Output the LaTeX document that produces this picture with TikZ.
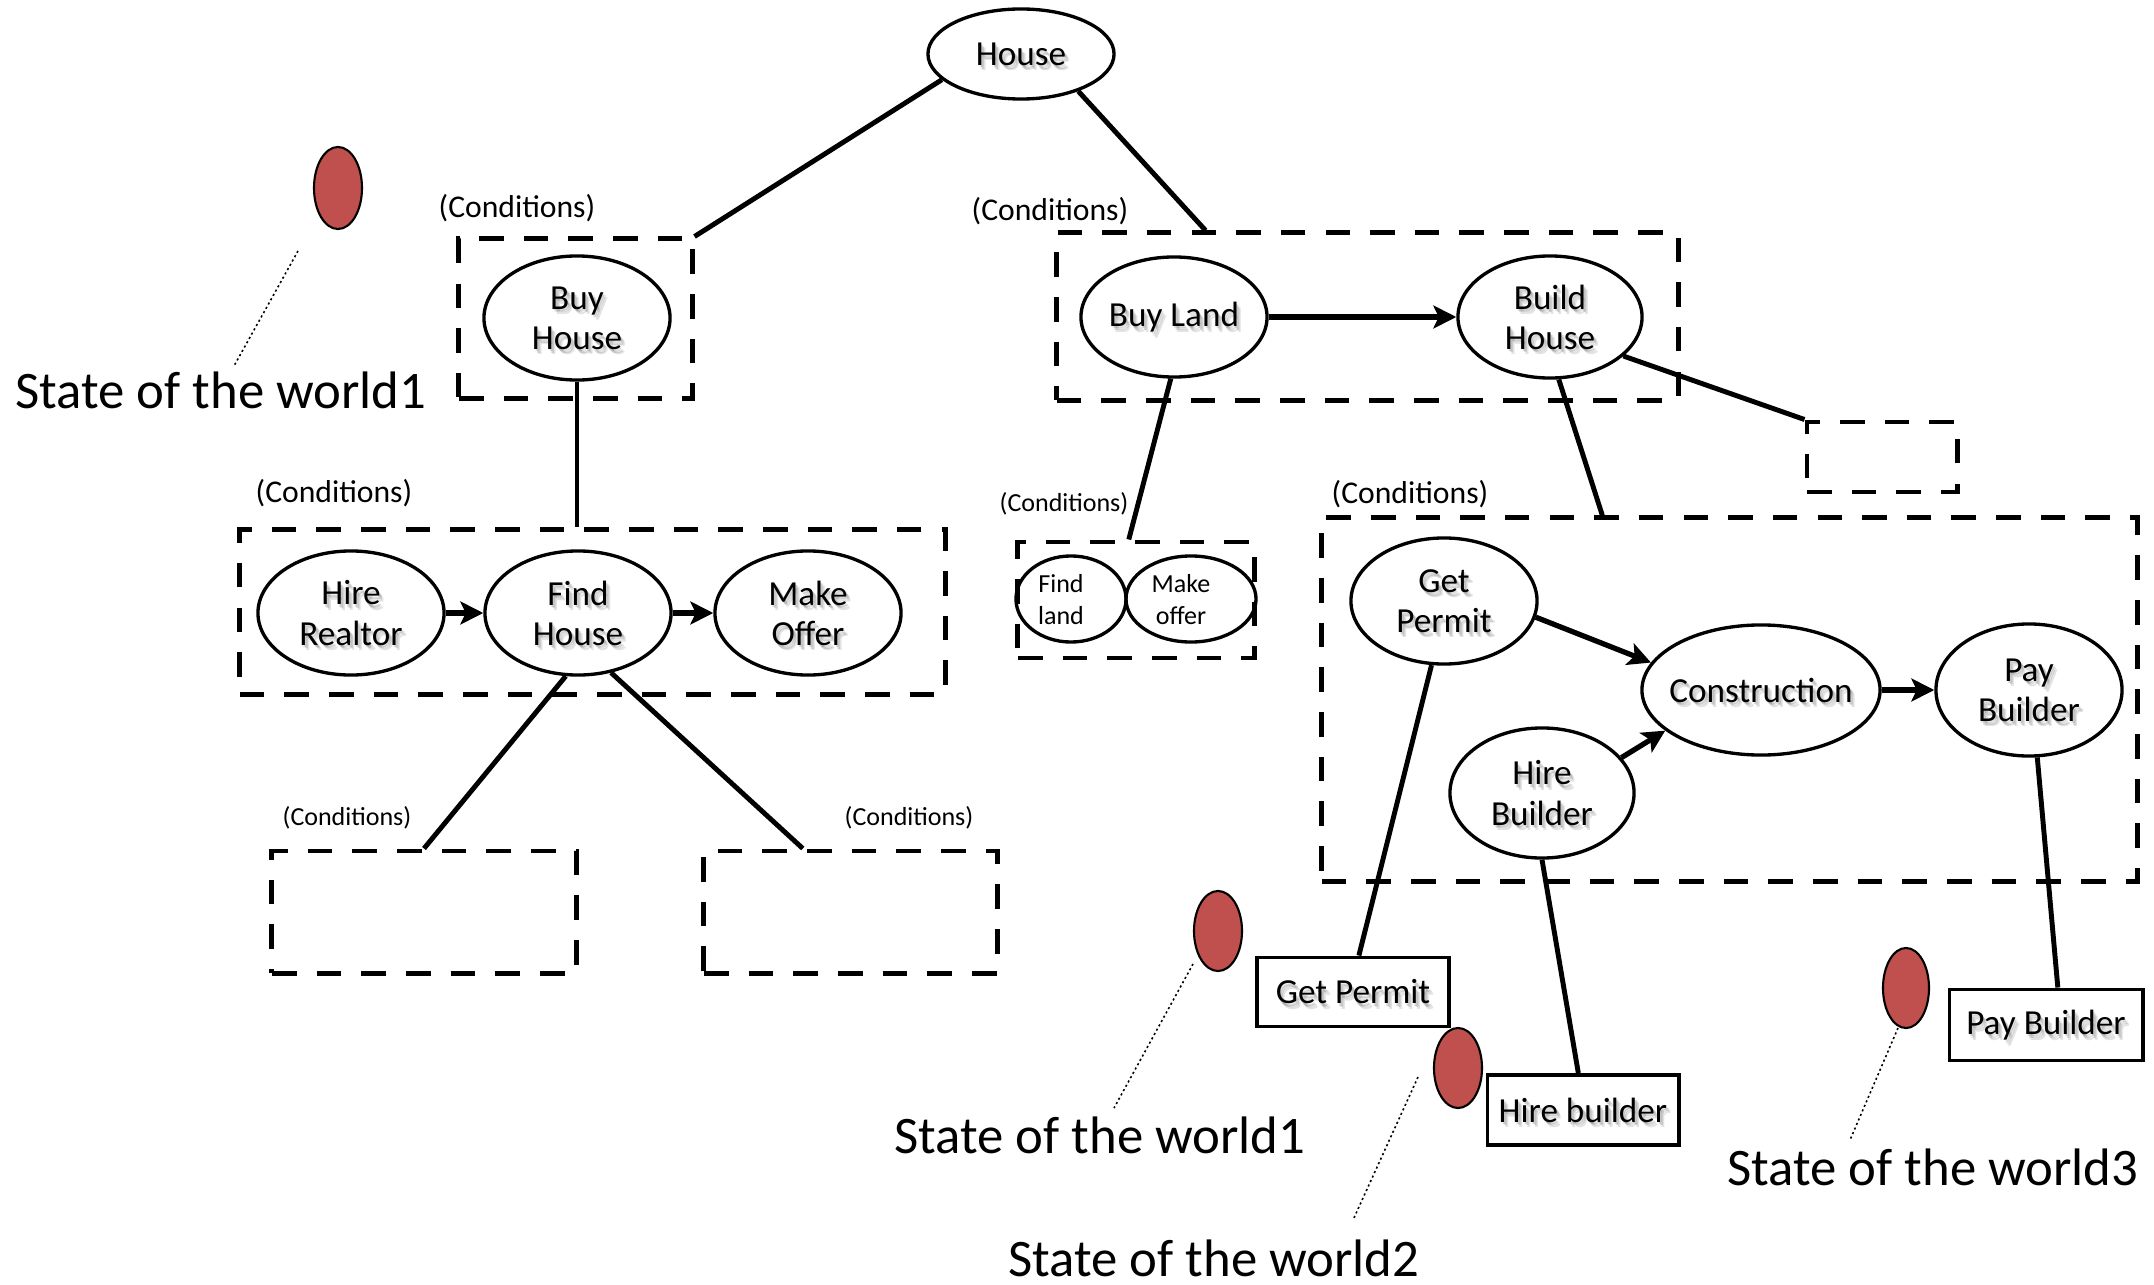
\documentclass[tikz,border=0pt]{standalone}
\usepackage{fontspec}
\setmainfont{Carlito}
\usetikzlibrary{shapes.geometric,arrows.meta,calc}

\definecolor{worldred}{HTML}{C0504D}

\tikzset{
  oval/.style={ellipse, draw, line width=0.95pt, inner sep=0pt},
  lbl/.style={font=\fontsize{10}{11.4}\selectfont, align=center, inner sep=0pt},
  shd/.style={lbl, text=black, opacity=0.11},
  cbox/.style={draw, line width=1.4pt, dash pattern=on 7pt off 5.7pt, inner sep=0pt},
  cond/.style={font=\fontsize{9}{10}\selectfont, inner sep=0pt},
  condsm/.style={font=\fontsize{7.4}{9.1}\selectfont, align=center, inner sep=0pt},
  tag/.style={draw, line width=1.1pt, fill=white, inner sep=0pt},
  link/.style={line width=1.4pt},
  flow/.style={line width=1.5pt, -{Stealth[length=6.5pt, width=6.5pt, inset=1.5pt]}},
  stateball/.style={ellipse, draw, line width=0.6pt, fill=worldred, inner sep=0pt},
  lead/.style={line width=0.45pt, dash pattern=on 0.6pt off 0.8pt},
  world/.style={font=\fontsize{15}{18}\selectfont, inner sep=0pt},
}

% label with a soft drop shadow: name, anchor point, text
\newcommand\shadowlabel[3]{%
  \foreach \dx/\dy [count=\k] in {0.4/-0.6, 0.8/-1.1, 1.2/-1.6} {
    \node[shd] (#1-sh\k) at ([shift={(\dx pt,\dy pt)}]#2) {#3};
  }
  \node[lbl] (#1) at (#2) {#3};
}

\begin{document}
\begin{tikzpicture}[x=0.01cm, y=-0.01cm]
\fill[white] (0,0) rectangle (2154,1285);
\useasboundingbox (0,0) rectangle (2154,1285);

% condition boxes
\node[cbox, minimum width=2.33cm, minimum height=1.59cm] (bhbox) at (575.5,318.5) {};
\node[cbox, minimum width=7.05cm, minimum height=1.64cm] (fhbox) at (592.5,612) {};
\node[cbox, minimum width=3.04cm, minimum height=1.22cm] (llbox) at (424,912) {};
\node[cbox, minimum width=2.93cm, minimum height=1.22cm] (lrbox) at (850.5,912) {};
\node[cbox, minimum width=6.21cm, minimum height=1.67cm] (blbox) at (1367.5,316.5) {};
\node[cbox, minimum width=2.36cm, minimum height=1.16cm] (flbox) at (1136,600) {};
\node[cbox, minimum width=1.50cm, minimum height=0.70cm] (ebox) at (1882,457) {};
\node[cbox, minimum width=8.15cm, minimum height=3.63cm] (bigbox) at (1729.5,699.5) {};

\node[cond] (c1) at (517,208) {(Conditions)};
\node[cond] (c2) at (334,493) {(Conditions)};
\node[condsm] (c3) at (347,818) {(Conditions)};
\node[condsm] (c4) at (909,818) {(Conditions)};
\node[cond] (c5) at (1050,211) {(Conditions)};
\node[condsm] (c6) at (1064,504) {(Conditions)};
\node[cond] (c7) at (1410,494) {(Conditions)};

% goal ellipses
\node[oval, minimum width=1.86cm, minimum height=0.90cm] (house) at (1021,54) {};
\node[oval, minimum width=1.86cm, minimum height=1.24cm] (buyhouse) at (577,318) {};
\node[oval, minimum width=1.86cm, minimum height=1.24cm] (hirerealtor) at (351,613) {};
\node[oval, minimum width=1.86cm, minimum height=1.24cm] (findhouse) at (578,613) {};
\node[oval, minimum width=1.86cm, minimum height=1.24cm] (makeoffer) at (808,613) {};
\node[oval, minimum width=1.86cm, minimum height=1.20cm] (buyland) at (1174,317) {};
\node[oval, minimum width=1.84cm, minimum height=1.22cm] (buildhouse) at (1550,317) {};
\node[oval, minimum width=1.10cm, minimum height=0.86cm] (findland) at (1071,599) {};
\node[oval, minimum width=1.30cm, minimum height=0.86cm] (makeoffer2) at (1191,599) {};
\node[oval, minimum width=1.86cm, minimum height=1.26cm] (getpermit) at (1444,601) {};
\node[oval, minimum width=2.38cm, minimum height=1.30cm] (construction) at (1761,690) {};
\node[oval, minimum width=1.86cm, minimum height=1.32cm] (paybuilder) at (2029,690) {};
\node[oval, minimum width=1.84cm, minimum height=1.30cm] (hirebuilder) at (1542,793) {};

% action boxes
\node[tag, minimum width=1.92cm, minimum height=0.69cm] (gpr) at (1353,992) {};
\node[tag, minimum width=1.91cm, minimum height=0.70cm] (hbr) at (1583,1110) {};
\node[tag, minimum width=1.93cm, minimum height=0.71cm] (pbr) at (2046,1025) {};

% decomposition links
\draw[link] (house.198) -- (bhbox.north east);
\draw[link] (house.327) -- ($(blbox.north west)!0.2415!(blbox.north east)$);
\draw[link] (buyhouse.south) -- (buyhouse.south |- fhbox.north);
\draw[link] (findhouse.259) -- (llbox.north);
\draw[link] (findhouse.299) -- ($(lrbox.north west)!0.34!(lrbox.north east)$);
\draw[link] (buyland.267) -- ($(flbox.north west)!0.47!(flbox.north east)$);
\draw[link] (buildhouse.332) -- (ebox.north west);
\draw[link] (buildhouse.278) -- ($(bigbox.north west)!0.345!(bigbox.north east)$);
\draw[link] (getpermit.259) -- ($(gpr.north west)!0.53!(gpr.north east)$);
\draw[link] (hirebuilder.south) -- ($(hbr.north west)!0.476!(hbr.north east)$);
\draw[link] (paybuilder.277) -- ($(pbr.north west)!0.56!(pbr.north east)$);

% ordering arrows
\draw[flow] (hirerealtor) -- (findhouse);
\draw[flow] (findhouse) -- (makeoffer);
\draw[flow] (buyland) -- (buildhouse);
\draw[flow] (getpermit.350) -- (construction.166);
\draw[flow] (hirebuilder.24) -- (construction.203);
\draw[flow] (construction) -- (paybuilder);

% labels
\shadowlabel{house-t}{house.center}{House}
\shadowlabel{buyhouse-t}{buyhouse.center}{Buy\\House}
\shadowlabel{hirerealtor-t}{hirerealtor.center}{Hire\\Realtor}
\shadowlabel{findhouse-t}{findhouse.center}{Find\\House}
\shadowlabel{makeoffer-t}{makeoffer.center}{Make\\Offer}
\shadowlabel{buyland-t}{buyland.center}{Buy Land}
\shadowlabel{buildhouse-t}{buildhouse.center}{Build\\House}
\shadowlabel{getpermit-t}{getpermit.center}{Get\\Permit}
\shadowlabel{construction-t}{construction.center}{Construction}
\shadowlabel{paybuilder-t}{paybuilder.center}{Pay\\Builder}
\shadowlabel{hirebuilder-t}{hirebuilder.center}{Hire\\Builder}
\shadowlabel{gpr-t}{gpr.center}{Get Permit}
\shadowlabel{hbr-t}{hbr.center}{Hire builder}
\shadowlabel{pbr-t}{pbr.center}{Pay Builder}

\node[condsm] (findland-t) at (1061,600) {Find\\land};
\node[condsm] (makeoffer2-t) at (1181,600) {Make\\offer};

% states of the world
\node[stateball, minimum width=0.48cm, minimum height=0.82cm] (s1) at (338,188) {};
\node[stateball, minimum width=0.48cm, minimum height=0.80cm] (s2) at (1218,931) {};
\node[stateball, minimum width=0.48cm, minimum height=0.80cm] (s3) at (1458,1068) {};
\node[stateball, minimum width=0.46cm, minimum height=0.80cm] (s4) at (1906,988) {};

\node[world] (w1) at (221,390) {State of the world1};
\node[world] (w1b) at (1100,1135) {State of the world1};
\node[world] (w2) at (1214,1258) {State of the world2};
\node[world] (w3) at (1933,1167) {State of the world3};

\coordinate (l1a) at (298,251);  \coordinate (l1b) at (234,366);
\coordinate (l2a) at (1193,964); \coordinate (l2b) at (1114,1108);
\coordinate (l3a) at (1418,1077); \coordinate (l3b) at (1353,1220);
\coordinate (l4a) at (1898,1028); \coordinate (l4b) at (1850,1140);
\draw[lead] (l1a) -- (l1b);
\draw[lead] (l2a) -- (l2b);
\draw[lead] (l3a) -- (l3b);
\draw[lead] (l4a) -- (l4b);
\end{tikzpicture}
\end{document}
